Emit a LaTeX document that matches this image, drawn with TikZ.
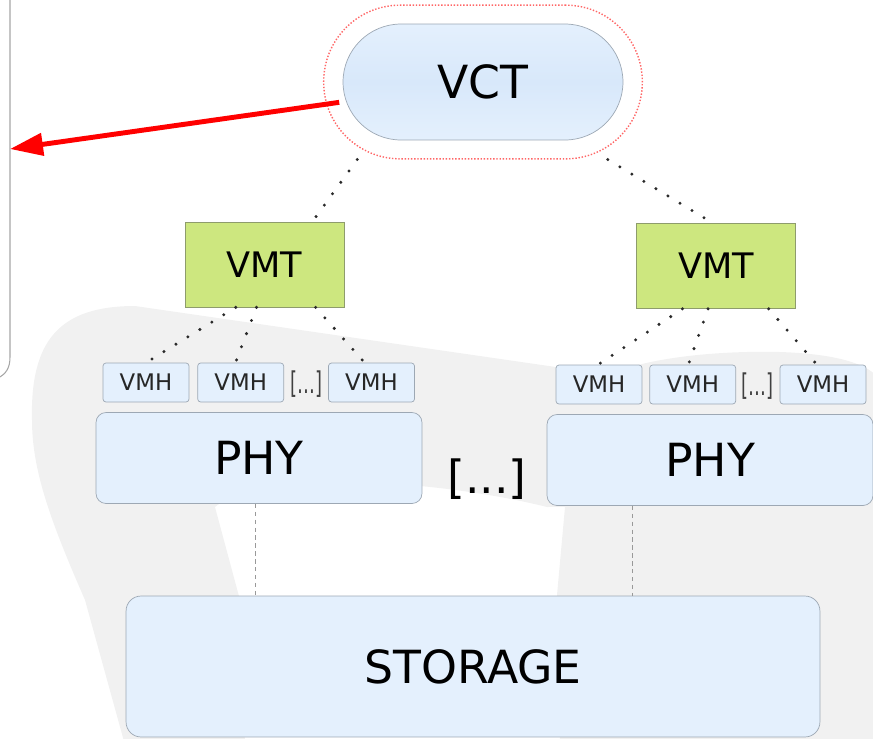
\documentclass[tikz,border=0pt]{standalone}
\usepackage{fontspec}
\setmainfont{DejaVu Sans}
\usetikzlibrary{positioning, arrows.meta, calc, fit}

\definecolor{boxblue}{HTML}{E4F0FD}
\definecolor{boxedge}{HTML}{9DA8B4}
\definecolor{vcttop}{HTML}{E4F0FD}
\definecolor{vctmid}{HTML}{D8E8FA}
\definecolor{vmtgreen}{HTML}{CDE77F}
\definecolor{vmtedge}{HTML}{8E9C6C}
\definecolor{bggray}{HTML}{F1F1F1}
\definecolor{dotgray}{HTML}{2A2A2A}

\begin{document}
\begin{tikzpicture}[
    % one unit = one pixel of the layout, y grows downwards
    x=0.02cm, y=-0.02cm,
    % Custom styles for the boxes
    vctbox/.style={draw=boxedge, top color=vcttop, bottom color=vcttop, middle color=vctmid,
        minimum width=5.6cm, minimum height=2.32cm, rounded corners=1.16cm,
        font=\fontsize{26}{30}\selectfont},
    vmtbox/.style={draw=vmtedge, fill=vmtgreen, minimum width=3.18cm, minimum height=1.7cm,
        font=\fontsize{20}{24}\selectfont},
    vmhbox/.style={draw=boxedge, fill=boxblue, minimum width=1.72cm, minimum height=0.78cm,
        rounded corners=0.06cm, text=black!85, font=\fontsize{13}{15}\selectfont},
    phybox/.style={draw=boxedge, fill=boxblue, minimum width=6.52cm, minimum height=1.82cm,
        rounded corners=0.2cm, font=\fontsize{26}{30}\selectfont},
    storebox/.style={draw=boxedge, fill=boxblue, minimum width=13.88cm, minimum height=2.82cm,
        rounded corners=0.3cm, font=\fontsize{26}{30}\selectfont},
    smallgap/.style={inner sep=0pt, text=black!75, font=\fontsize{17}{20}\selectfont},
    biggap/.style={inner sep=0pt, font=\fontsize{26}{30}\selectfont},
    % links
    dotlink/.style={draw=dotgray, line width=1.9pt, line cap=round, dash pattern=on 0pt off 8pt},
    dashlink/.style={draw=black!40, line width=0.5pt, dash pattern=on 2.5pt off 2pt},
    ring/.style={draw=red!60, line width=0.8pt, dash pattern=on 0.8pt off 1pt,
        rounded corners=1.53cm},
    redarrow/.style={draw=red, line width=2.8pt, -{Triangle[length=0.66cm, width=0.44cm]}}
]
\useasboundingbox (0,0) rectangle (873,738);

% ==========================================
% BACKGROUND: GREY PLATES
% ==========================================
\begin{scope}
    \clip (0,0) rectangle (873,738);
    \fill[bggray] (125,745) -- (85,600) .. controls (50,520) and (32,470) .. (32,420)
        .. controls (30,340) and (60,306) .. (135,306) -- (880,414) -- (880,505)
        -- (547,507) .. controls (430,478) and (260,470) .. (215,507) -- (240,600)
        -- (245,745) -- cycle;
    \fill[bggray] (560,745) -- (557,595) -- (565,507) -- (562,420)
        .. controls (570,362) and (700,350) .. (780,352)
        .. controls (840,354) and (870,365) .. (880,380) -- (880,745) -- cycle;
    % edge of the side panel
    \draw[black!35, line width=0.6pt] (10,-5) -- (10,357) .. controls (10,368) and (6,374) .. (-2,378);
\end{scope}

% ==========================================
% TOP: VCT AND THE TWO VMT
% ==========================================
\node[vctbox] (vct) at (483,82) {VCT};
\node[ring, fit=(vct), inner xsep=0.38cm, inner ysep=0.37cm] (vctring) {};
\coordinate (panelhit) at (10,149);

\node[vmtbox] (vmtL) at (264.5,264.5) {VMT};
\node[vmtbox] (vmtR) at (716,266) {VMT};

% ==========================================
% MIDDLE: VMH ROWS ON THE PHY HOSTS
% ==========================================
\node[phybox] (phyL) at (259,458) {PHY};
\node[phybox] (phyR) at (710,460) {PHY};
\node[biggap] (hostgap) at (487,479) {[...]};

\node[vmhbox] (vmhL1) at (146,382.5) {VMH};
\node[vmhbox, right=0.16cm of vmhL1] (vmhL2) {VMH};
\node[vmhbox] (vmhL3) at (371.5,382.5) {VMH};
\node[smallgap] (gapL) at ($(vmhL2.east)!0.5!(vmhL3.west)+(0,2)$) {\scalebox{0.6}[1]{[…]}};

\node[vmhbox] (vmhR1) at (599,384.5) {VMH};
\node[vmhbox, right=0.14cm of vmhR1] (vmhR2) {VMH};
\node[vmhbox] (vmhR3) at (823,384.5) {VMH};
\node[smallgap] (gapR) at ($(vmhR2.east)!0.5!(vmhR3.west)+(0,2)$) {\scalebox{0.6}[1]{[…]}};

% ==========================================
% BOTTOM: SHARED STORAGE
% ==========================================
\node[storebox] (storage) at (473,666.5) {STORAGE};

% PHY to storage
\coordinate (diskL) at ($(phyL.south west)!0.49!(phyL.south east)$);
\coordinate (diskR) at ($(phyR.south west)!0.264!(phyR.south east)$);
\draw[dashlink] (diskL) -- (diskL |- storage.north);
\draw[dashlink] (diskR) -- (diskR |- storage.north);

% VCT to VMT
\draw[dotlink] ($(vctring.south west)!0.107!(vctring.south east)$) -- ($(vmtL.north west)!0.8!(vmtL.north east)$);
\draw[dotlink] ($(vctring.south west)!0.89!(vctring.south east)$) -- ($(vmtR.north west)!0.48!(vmtR.north east)$);

% VMT to VMH, left host
\draw[dotlink] ($(vmtL.south west)!0.32!(vmtL.south east)$) -- ($(vmhL1.north west)!0.5!(vmhL1.north east)$);
\draw[dotlink] ($(vmtL.south west)!0.45!(vmtL.south east)$) -- ($(vmhL2.north west)!0.44!(vmhL2.north east)$);
\draw[dotlink] ($(vmtL.south west)!0.82!(vmtL.south east)$) -- ($(vmhL3.north west)!0.42!(vmhL3.north east)$);

% VMT to VMH, right host
\draw[dotlink] ($(vmtR.south west)!0.29!(vmtR.south east)$) -- ($(vmhR1.north west)!0.49!(vmhR1.north east)$);
\draw[dotlink] ($(vmtR.south west)!0.45!(vmtR.south east)$) -- ($(vmhR2.north west)!0.45!(vmhR2.north east)$);
\draw[dotlink] ($(vmtR.south west)!0.83!(vmtR.south east)$) -- ($(vmhR3.north west)!0.43!(vmhR3.north east)$);

% red pointer out of the VCT
\draw[redarrow, shorten <=2pt] (vct) -- (panelhit);

\end{tikzpicture}
\end{document}
